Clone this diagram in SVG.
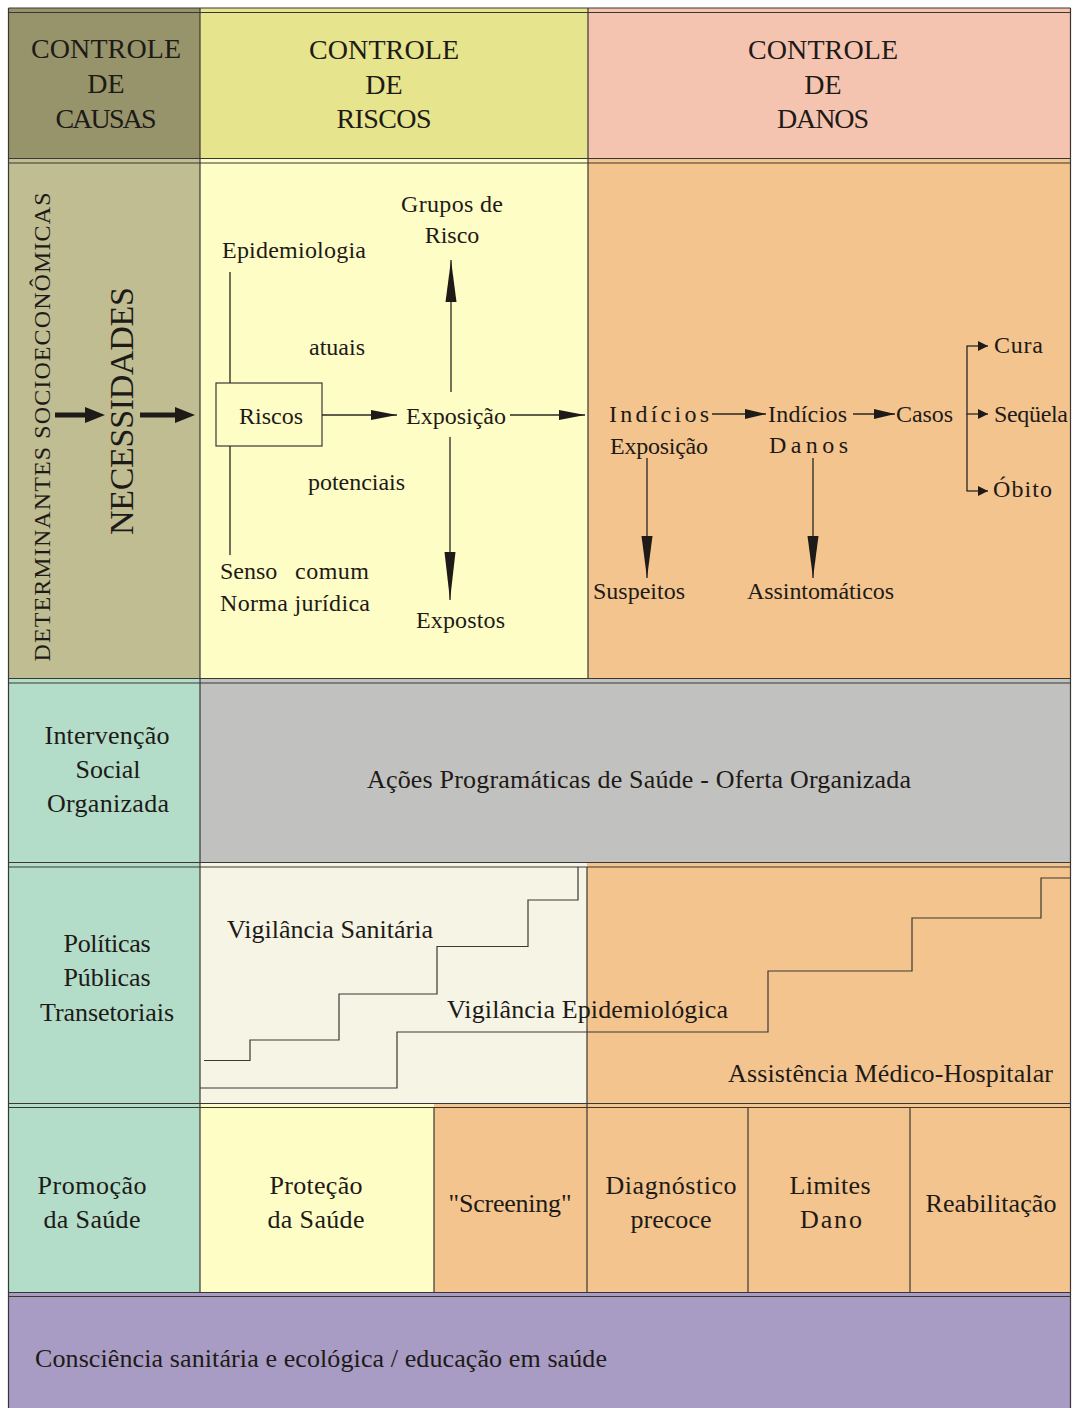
<svg xmlns="http://www.w3.org/2000/svg" width="1076" height="1408" viewBox="0 0 1076 1408">
<style>
text{font-family:'Liberation Serif','DejaVu Serif',serif}
.t{font-size:24px;fill:#1d1a17}
.h{font-size:28px;text-anchor:middle}
.m{text-anchor:middle}
.b{font-size:26px}
.ln{stroke:#3a3834;stroke-width:1.2;fill:none}
.cn{stroke:#2a2723;stroke-width:1.3;fill:none}
.thick{stroke:#1d1a17;stroke-width:5;fill:none}
</style>
<defs>
<marker id="big" markerUnits="userSpaceOnUse" markerWidth="20" markerHeight="16" refX="2" refY="8" orient="auto"><path d="M0,0 L20,8 L0,16 z" fill="#1d1a17"/></marker>
<marker id="med" markerUnits="userSpaceOnUse" markerWidth="26" markerHeight="12" refX="26" refY="6" orient="auto"><path d="M0,1 L26,6 L0,11 z" fill="#1d1a17"/></marker>
<marker id="sm" markerUnits="userSpaceOnUse" markerWidth="21" markerHeight="12" refX="21" refY="6" orient="auto"><path d="M0,1 L21,6 L0,11 z" fill="#1d1a17"/></marker>
<marker id="tiny" markerUnits="userSpaceOnUse" markerWidth="10" markerHeight="12" refX="10" refY="6" orient="auto"><path d="M0,1 L10,6 L0,11 z" fill="#1d1a17"/></marker>
<marker id="lng" markerUnits="userSpaceOnUse" markerWidth="42" markerHeight="12" refX="42" refY="6" orient="auto"><path d="M0,0.5 L42,6 L0,11.5 z" fill="#1d1a17"/></marker>
<marker id="lng2" markerUnits="userSpaceOnUse" markerWidth="48" markerHeight="12" refX="48" refY="6" orient="auto"><path d="M0,0.5 L48,6 L0,11.5 z" fill="#1d1a17"/></marker>
</defs>

<g id="backgrounds">
<rect x="8.5" y="8" width="191.5" height="150.5" fill="#97946B"/>
<rect x="200" y="8" width="388" height="150.5" fill="#E6E48C"/>
<rect x="588" y="8" width="482.5" height="150.5" fill="#F5C4B0"/>
<rect x="8.5" y="158.5" width="191.5" height="520" fill="#BFBD91"/>
<rect x="200" y="158.5" width="388" height="520" fill="#FFFDC6"/>
<rect x="588" y="158.5" width="482.5" height="520" fill="#F4C48E"/>
<rect x="8.5" y="678.5" width="191.5" height="184" fill="#B3DCC9"/>
<rect x="200" y="678.5" width="870.5" height="184" fill="#C1C1C0"/>
<rect x="8.5" y="862.5" width="191.5" height="241" fill="#B3DCC9"/>
<rect x="200" y="862.5" width="387" height="241" fill="#F6F4E4"/>
<rect x="587" y="862.5" width="483.5" height="241" fill="#F4C48E"/>
<rect x="8.5" y="1103.5" width="191.5" height="189" fill="#B3DCC9"/>
<rect x="200" y="1103.5" width="234" height="189" fill="#FFFDC6"/>
<rect x="434" y="1103.5" width="636.5" height="189" fill="#F4C48E"/>
<rect x="8.5" y="1292.5" width="1062" height="115.5" fill="#A89CC4"/>
</g>

<g id="grid">
<path class="ln" d="M8.5,8 H1070.5 M8.5,12.5 H1070.5 M8.5,158.5 H1070.5 M8.5,163 H1070.5 M8.5,678.5 H1070.5 M8.5,683 H1070.5 M8.5,862.5 H1070.5 M8.5,867 H1070.5 M8.5,1103.5 H1070.5 M8.5,1107.5 H1070.5 M8.5,1292.5 H1070.5 M8.5,1296.5 H1070.5"/>
<path class="ln" d="M8.5,8 V1408 M1070.5,8 V1408 M200,8 V1292.5 M588,8 V678.5 M587,867 V1292.5 M434,1107.5 V1292.5 M748,1107.5 V1292.5 M910,1107.5 V1292.5"/>
</g>

<g id="header">
<g id="h-causas"><text class="t h" x="106" y="58" textLength="150">CONTROLE</text><text class="t h" x="106" y="93">DE</text><text class="t h" x="106" y="128" textLength="101">CAUSAS</text></g>
<g id="h-riscos"><text class="t h" x="384" y="59" textLength="150">CONTROLE</text><text class="t h" x="384" y="94">DE</text><text class="t h" x="384" y="128" textLength="95">RISCOS</text></g>
<g id="h-danos"><text class="t h" x="823" y="59" textLength="150">CONTROLE</text><text class="t h" x="823" y="94">DE</text><text class="t h" x="823" y="128" textLength="92">DANOS</text></g>
</g>

<g id="determinantes"><text class="t m" transform="translate(50,427) rotate(-90)" textLength="469">DETERMINANTES SOCIOECONÔMICAS</text></g>
<g id="necessidades"><text class="t m" style="font-size:34px" transform="translate(133,411) rotate(-90)" textLength="248">NECESSIDADES</text></g>

<g id="riscos-nodes">
<g id="grupos"><text class="t m" x="452" y="212" textLength="102">Grupos de</text><text class="t m" x="452" y="243">Risco</text></g>
<g id="epidemiologia"><text class="t" x="222" y="258" textLength="144">Epidemiologia</text></g>
<g id="atuais"><text class="t" x="309" y="355">atuais</text></g>
<g id="riscos"><rect class="ln" x="216" y="383" width="106" height="63"/><text class="t m" x="271" y="424">Riscos</text></g>
<g id="exposicao"><text class="t" x="406" y="424" textLength="100">Exposição</text></g>
<g id="potenciais"><text class="t" x="308" y="490" textLength="97">potenciais</text></g>
<g id="senso"><text class="t" x="220" y="579">Senso</text><text class="t" x="295" y="579" textLength="74">comum</text><text class="t" x="220" y="611" textLength="150">Norma jurídica</text></g>
<g id="expostos"><text class="t" x="416" y="628" textLength="89">Expostos</text></g>
</g>

<g id="danos-nodes">
<g id="ind-exp"><text class="t" x="609" y="422" textLength="100">Indícios</text><text class="t" x="610" y="454" textLength="98">Exposição</text></g>
<g id="ind-danos"><text class="t" x="768" y="422" textLength="79">Indícios</text><text class="t" x="769" y="453" textLength="79">Danos</text></g>
<g id="casos"><text class="t" x="896" y="422" textLength="57">Casos</text></g>
<g id="cura"><text class="t" x="994" y="353" textLength="49">Cura</text></g>
<g id="sequela"><text class="t" x="994" y="422" textLength="74">Seqüela</text></g>
<g id="obito"><text class="t" x="993" y="497" textLength="59">Óbito</text></g>
<g id="suspeitos"><text class="t" x="593" y="599" textLength="92">Suspeitos</text></g>
<g id="assintomaticos"><text class="t" x="747" y="599" textLength="147">Assintomáticos</text></g>
</g>

<g id="connectors">
<line class="thick" x1="55" y1="415" x2="87" y2="415" marker-end="url(#big)"/>
<line class="thick" x1="140" y1="415" x2="177" y2="415" marker-end="url(#big)"/>
<path class="cn" d="M230,272 V383 M230,446 V555"/>
<line class="cn" x1="322" y1="415" x2="397" y2="415" marker-end="url(#med)"/>
<line class="cn" x1="510" y1="415" x2="585" y2="415" marker-end="url(#med)"/>
<line class="cn" x1="451" y1="392" x2="451" y2="260" marker-end="url(#lng)"/>
<line class="cn" x1="450" y1="437" x2="450" y2="600" marker-end="url(#lng2)"/>
<line class="cn" x1="712" y1="414" x2="766" y2="414" marker-end="url(#sm)"/>
<line class="cn" x1="853" y1="414" x2="895" y2="414" marker-end="url(#sm)"/>
<path class="cn" d="M967,346 V491"/>
<line class="cn" x1="966.5" y1="346" x2="988" y2="346" marker-end="url(#tiny)"/>
<line class="cn" x1="966.5" y1="414" x2="988" y2="414" marker-end="url(#tiny)"/>
<line class="cn" x1="966.5" y1="491" x2="988" y2="491" marker-end="url(#tiny)"/>
<line class="cn" x1="647" y1="458" x2="647" y2="578" marker-end="url(#lng)"/>
<line class="cn" x1="813" y1="458" x2="813" y2="578" marker-end="url(#lng)"/>
</g>

<g id="row-intervencao">
<g id="intervencao"><text class="t m b" x="107" y="744" textLength="125">Intervenção</text><text class="t m b" x="108" y="778">Social</text><text class="t m b" x="108" y="812" textLength="122">Organizada</text></g>
<g id="acoes"><text class="t m" style="font-size:26px" x="639" y="788" textLength="544">Ações Programáticas de Saúde - Oferta Organizada</text></g>
</g>

<g id="row-politicas">
<g id="politicas"><text class="t m b" x="107" y="952" textLength="87">Políticas</text><text class="t m b" x="107" y="986" textLength="87">Públicas</text><text class="t m b" x="107" y="1021" textLength="134">Transetoriais</text></g>
<path class="ln" d="M204,1060.5 H250 V1040 H339 V994 H437 V946.5 H528 V900 H578 V867"/>
<path class="ln" d="M200,1088 H397 V1032 H768 V971 H912 V918 H1041 V878 H1070.5"/>
<g id="vig-sanitaria"><text class="t b" x="227" y="938" textLength="206">Vigilância Sanitária</text></g>
<g id="vig-epidemio"><text class="t b" x="447" y="1018" textLength="281">Vigilância Epidemiológica</text></g>
<g id="assistencia"><text class="t b" x="728" y="1082" textLength="325">Assistência Médico-Hospitalar</text></g>
</g>

<g id="row-niveis">
<g id="promocao"><text class="t m b" x="92" y="1194" textLength="109">Promoção</text><text class="t m b" x="92" y="1228" textLength="97">da Saúde</text></g>
<g id="protecao"><text class="t m b" x="316" y="1194" textLength="93">Proteção</text><text class="t m b" x="316" y="1228" textLength="97">da Saúde</text></g>
<g id="screening"><text class="t m b" x="510" y="1212" textLength="123">"Screening"</text></g>
<g id="diagnostico"><text class="t m b" x="671" y="1194" textLength="131">Diagnóstico</text><text class="t m b" x="671" y="1228" textLength="81">precoce</text></g>
<g id="limites"><text class="t m b" x="830" y="1194" textLength="81">Limites</text><text class="t m b" x="831" y="1228" textLength="62">Dano</text></g>
<g id="reabilitacao"><text class="t m b" x="991" y="1212" textLength="131">Reabilitação</text></g>
</g>

<g id="consciencia"><text class="t b" x="35" y="1367" textLength="572">Consciência sanitária e ecológica / educação em saúde</text></g>
</svg>
